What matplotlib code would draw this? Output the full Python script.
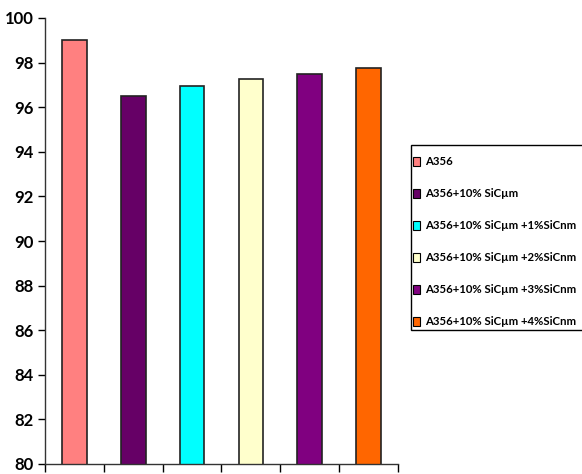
import matplotlib
matplotlib.use("Agg")
import matplotlib.pyplot as plt
from matplotlib.patches import Rectangle
import numpy as np

# hardness values for each alloy / composite
labels = ["A356", "A356+10% SiCµm", "A356+10% SiCµm +1%SiCnm",
          "A356+10% SiCµm +2%SiCnm", "A356+10% SiCµm +3%SiCnm",
          "A356+10% SiCµm +4%SiCnm"]
values = [99.0, 96.5, 96.95, 97.25, 97.5, 97.75]
colors = ["#FF8080", "#660066", "#00FFFF", "#FFFFCC", "#800080", "#FF6600"]

plt.rcParams['font.family'] = ['Lato', 'DejaVu Sans']
plt.rcParams['font.weight'] = 'bold'

W, H = 582, 474
fig = plt.figure(figsize=(W / 100, H / 100), dpi=100)
ax = fig.add_axes([45 / W, 10 / H, 353 / W, 446 / H])

x = np.arange(len(values))
ax.bar(x, values, width=0.42, color=colors, edgecolor="#222222", linewidth=1.2)

ax.set_ylim(80, 100)
ax.set_xlim(-0.5, len(values) - 0.5)
ax.set_yticks(np.arange(80, 101, 2))
ax.set_xticks(np.arange(-0.5, len(values), 1.0))
ax.set_xticklabels([])
ax.tick_params(axis="y", direction="out", length=5, width=1, labelsize=12, pad=3)
ax.tick_params(axis="x", direction="out", length=6, width=1)
for sp in ["top", "right"]:
    ax.spines[sp].set_visible(False)
for sp in ["left", "bottom"]:
    ax.spines[sp].set_color("#333333")
    ax.spines[sp].set_linewidth(1.0)

# legend box runs off the right edge
fig.patches.append(Rectangle((411 / W, 1 - 330 / H), 0.4, 185 / H,
                             transform=fig.transFigure, facecolor="white",
                             edgecolor="black", linewidth=1.0, zorder=0))

handles = [Rectangle((0, 0), 1, 1, facecolor=c, edgecolor="black", linewidth=0.8)
           for c in colors]
leg = fig.legend(handles, labels, loc="upper left",
                 bbox_to_anchor=(410 / W, 1 - 153 / H),
                 frameon=False, fontsize=8.2,
                 handlelength=0.6, handleheight=0.8, handletextpad=0.4,
                 labelspacing=1.84, borderpad=0.3, borderaxespad=0)

fig.savefig("out.png", dpi=100)
